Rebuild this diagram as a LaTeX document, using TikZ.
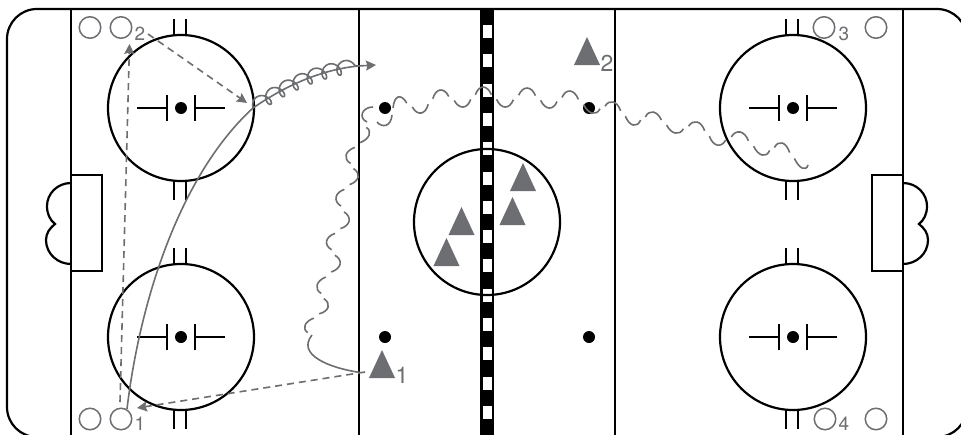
\documentclass[tikz,border=0pt]{standalone}
\usepackage{fontspec}
\setmainfont{TeX Gyre Heros}
\usepackage{xcolor}
\usetikzlibrary{calc, arrows.meta, decorations.pathmorphing}
\definecolor{drill}{HTML}{6D6E71}

\tikzset{
    rinkline/.style={line width=2.2pt, black},
    pathline/.style={line width=1.6pt, drill},
    passline/.style={pathline, dash pattern=on 7pt off 5pt},
    player/.style={circle, draw=drill, line width=1.5pt, minimum size=21.5pt, inner sep=0pt},
    smalllabel/.style={text=drill, font=\fontsize{19}{19}\selectfont, inner sep=0pt},
    biglabel/.style={text=drill, font=\fontsize{23}{23}\selectfont, inner sep=0pt}
}

\begin{document}
\begin{tikzpicture}[x=1pt, y=-1pt, >={Stealth[length=10pt, width=10pt, inset=1.5pt]}]

    \useasboundingbox (0,0) rectangle (961,434);
    \fill[white] (0,0) rectangle (961,434);
    \clip (0,0) rectangle (961,434);

    % =================================================================
    % CENTER LINE
    % =================================================================
    \fill[black] (480,8) rectangle (494,437);
    \foreach \i in {0,...,13} {
        \fill[white] (482.5,{25+29.3*\i}) rectangle (491.5,{38+29.3*\i});
    }

    % =================================================================
    % RINK
    % =================================================================
    \draw[rinkline, rounded corners=30pt] (7,9) rectangle (967,437);
    \draw[rinkline] (71,9) -- (71,437);
    \draw[rinkline] (359,9) -- (359,437);
    \draw[rinkline] (615,9) -- (615,437);
    \draw[rinkline] (903,9) -- (903,437);

    % Center circle and neutral dots
    \draw[rinkline] (487,222) circle (73);
    \foreach \dotx/\doty in {385/108, 589/108, 385/337, 589/337} {
        \fill[black] (\dotx,\doty) circle (6);
    }

    % Face-off circles
    \foreach \cx in {181,793} {
        \foreach \cy in {108,337} {
            \draw[rinkline] (\cx,\cy) circle (73);
            \fill[black] (\cx,\cy) circle (6);
            \draw[rinkline] (\cx-44,\cy) -- (\cx-14,\cy);
            \draw[rinkline] (\cx+14,\cy) -- (\cx+44,\cy);
            \draw[rinkline] (\cx-14,\cy-13) -- (\cx-14,\cy+13);
            \draw[rinkline] (\cx+14,\cy-13) -- (\cx+14,\cy+13);
            % hash marks
            \draw[rinkline] (\cx-7,\cy-89) -- (\cx-7,\cy-73);
            \draw[rinkline] (\cx+5,\cy-89) -- (\cx+5,\cy-73);
            \draw[rinkline] (\cx-7,\cy+73) -- (\cx-7,\cy+92);
            \draw[rinkline] (\cx+5,\cy+73) -- (\cx+5,\cy+92);
        }
    }

    % Goals
    \foreach \shift/\flip in {0pt/1, 974pt/-1} {
        \begin{scope}[xshift=\shift, xscale=\flip]
            \draw[rinkline] (71,175) -- (102,175) -- (102,271) -- (71,271);
            \draw[rinkline] (71,183) .. controls (57,183) and (47,194) .. (47,206)
                .. controls (47,214) and (50,220) .. (55,224)
                .. controls (50,228) and (46,233) .. (46,240)
                .. controls (46,254) and (58,264) .. (71,264);
        \end{scope}
    }

    % =================================================================
    % PLAYERS
    % =================================================================
    \node[player] (A) at (90,27.5) {};
    \node[player] (O2) at (121,27.5) {};
    \node[player] (O3) at (824,27.5) {};
    \node[player] (B) at (876,27.5) {};
    \node[player] (C) at (90,419) {};
    \node[player] (O1) at (121,419) {};
    \node[player] (O4) at (825,419) {};
    \node[player] (D) at (876,419) {};

    \node[smalllabel] (labO2) at (140,34) {2};
    \node[smalllabel] (labO1) at (140,424) {1};
    \node[smalllabel] (labO3) at (844,34) {3};
    \node[smalllabel] (labO4) at (844,424) {4};

    % Triangles (apex coordinates)
    \coordinate (T1) at (382,350);
    \coordinate (T2) at (587,37);
    \coordinate (T3) at (523,163);
    \coordinate (T4) at (512.5,197);
    \coordinate (T5) at (461.5,207);
    \coordinate (T6) at (446.5,238);
    \foreach \apex in {T1,T2,T3,T4,T5,T6} {
        \fill[drill] (\apex) -- ++(13,28) -- ++(-26,0) -- cycle;
    }
    \node[biglabel] (labT1) at (402,375) {1};
    \node[biglabel] (labT2) at (607,63) {2};

    % =================================================================
    % PASSES AND SKATING LINES
    % =================================================================
    \coordinate (pA) at (120,402);
    \coordinate (pB) at (129.5,44);
    \coordinate (pC) at (148,34);
    \coordinate (pD) at (247,103);
    \coordinate (pE) at (365,372);
    \coordinate (pF) at (137,408);
    \coordinate (cA) at (127,409);
    \coordinate (cB) at (253,108);
    \coordinate (cC) at (358,66);
    \coordinate (cD) at (376,65);

    \draw[passline, ->] (pA) -- (pB);
    \draw[passline, ->] (pC) -- (pD);
    \draw[passline, ->] (pE) -- (pF);

    % Long skating curve
    \draw[pathline] (cA) .. controls (140,300) and (180,175) .. (cB);

    % Tight carry toward the blue line
    \draw[pathline] (cB) .. controls (285,86) and (320,70) .. (cC);
    \draw[pathline, decorate, decoration={coil, amplitude=7pt, segment length=15.5pt, aspect=0.75}]
        (cB) .. controls (285,86) and (320,70) .. (cC);
    \draw[pathline, ->] (cC) -- (cD);

    % Puck carry: solid start, broken wave after
    \draw[pathline] (360,372.5) .. controls (330,368) and (296,355) .. (312,335);
    \foreach \i/\x/\y in {1/312/345, 2/305/325, 3/328/307, 4/317/285, 5/340/264, 6/326.5/241,
        7/349/221, 8/336/197, 9/358/177, 10/346/155, 11/369/135, 12/362/115} {
        \coordinate (w\i) at (\x,\y);
    }
    \foreach \i/\x/\y in {20/385/126, 21/398/97, 22/421/113, 23/440/90, 24/463/107, 25/483/87,
        26/505/107, 27/527/88, 28/549/108, 29/570/91, 30/592/113, 31/613/102, 32/633/125,
        33/653/112, 34/675/133, 35/697/122, 36/717/145, 37/740/132, 38/762/155, 39/782/143,
        40/802/168, 41/818/160} {
        \coordinate (w\i) at (\x,\y);
    }
    \foreach \i in {2,...,11,21,22,...,40} {
        \pgfmathtruncatemacro{\prev}{\i-1}
        \pgfmathtruncatemacro{\next}{\i+1}
        \draw[pathline] ($(w\i)!.38!(w\prev)$)
            .. controls ($1.127*(w\i)+.0317*(w\prev)-.1583*(w\next)$)
            and ($1.127*(w\i)-.1583*(w\prev)+.0317*(w\next)$) .. ($(w\i)!.38!(w\next)$);
    }
    \draw[pathline] (373,107) .. controls (362,107) and (358,118) .. (367,122);
    \draw[pathline] (377,122) .. controls (382,128) and (391,127) .. (392,115);

\end{tikzpicture}
\end{document}
